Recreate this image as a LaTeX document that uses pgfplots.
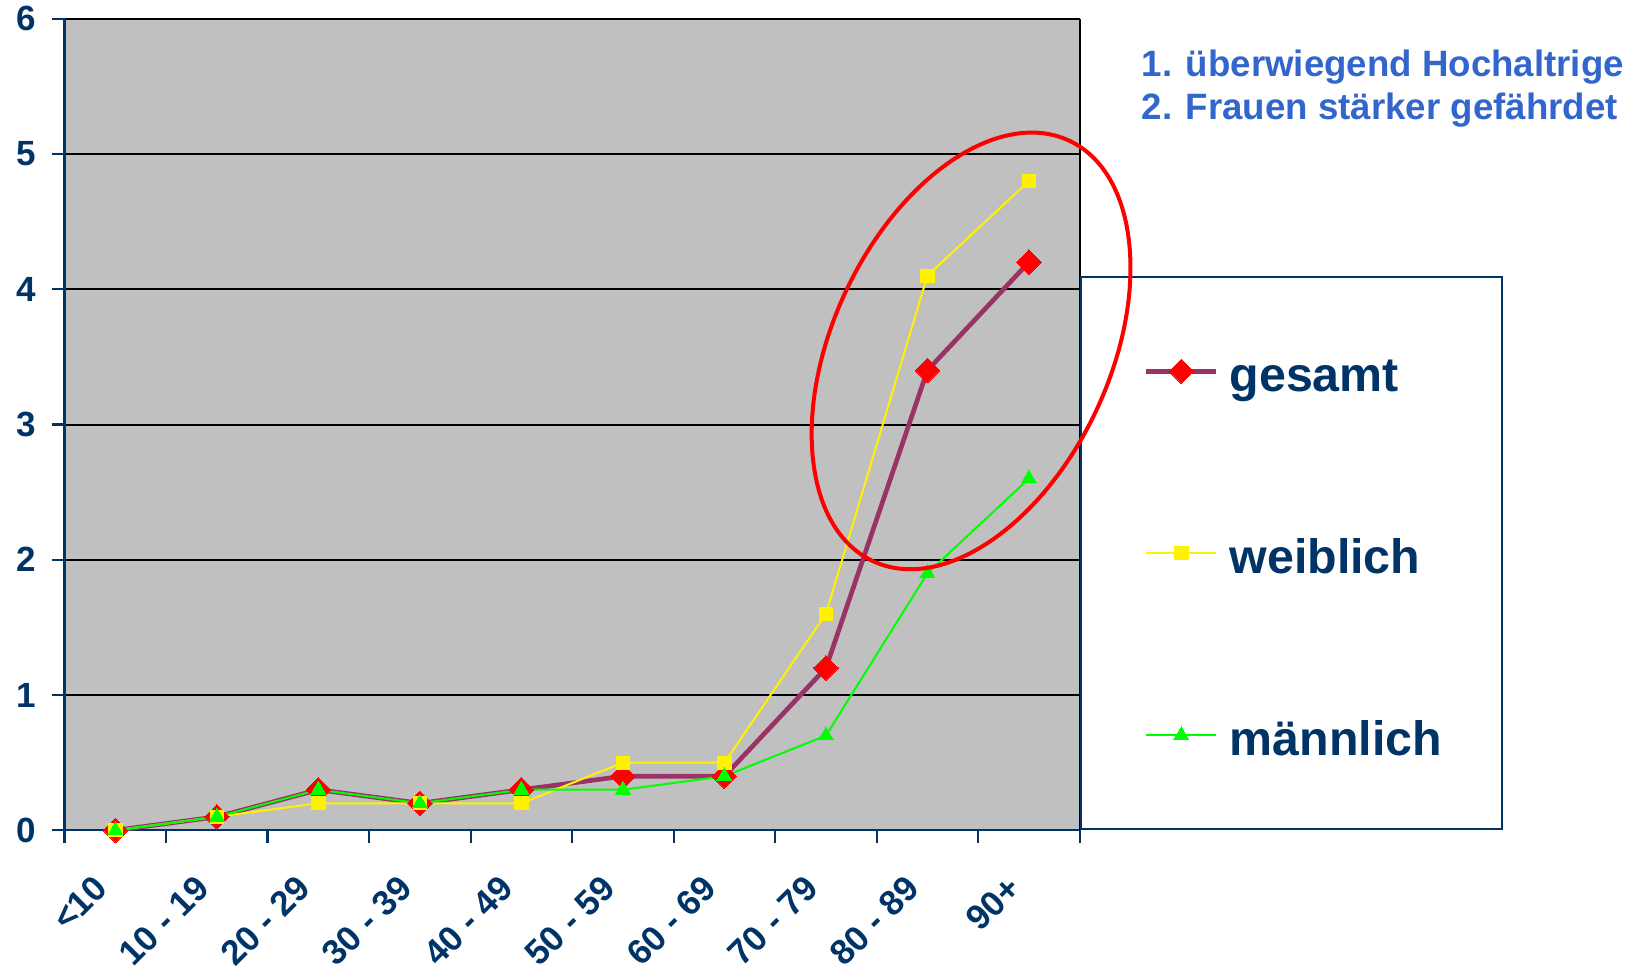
\documentclass[border=0pt]{standalone}
\usepackage{fontspec}
\setmainfont{Liberation Sans}
\usepackage{pgfplots}
\pgfplotsset{compat=1.18}

\definecolor{navy}{HTML}{003366}
\definecolor{annot}{HTML}{3366CC}
\definecolor{plum}{HTML}{993366}
\definecolor{plotgray}{HTML}{C0C0C0}

\begin{document}
\begin{tikzpicture}
\path[use as bounding box] (-19.4pt,-42.75pt) rectangle (470.8pt,249.1pt);
\begin{axis}[
    at={(0,0)}, anchor=south west,
    scale only axis,
    width=304.5pt, height=243.5pt,
    xmin=0, xmax=10, ymin=0, ymax=6,
    xtick={0,...,10},
    x tick label as interval,
    xticklabels={<10, 10 - 19, 20 - 29, 30 - 39, 40 - 49, 50 - 59, 60 - 69, 70 - 79, 80 - 89, 90+},
    ytick={0,...,6},
    axis lines*=left,
    axis line style={navy, line width=0.7pt},
    tick align=outside,
    major tick length=3.9pt,
    tick style={navy, line width=0.7pt},
    ymajorgrids,
    grid style={black, line width=0.6pt},
    axis background/.style={fill=plotgray},
    clip=false,
    /pgf/number format/assume math mode=true,
    tick label style={text=navy},
    xticklabel style={font=\bfseries\fontsize{10.5}{12}\selectfont, inner sep=0pt,
        xshift=-7pt, yshift=-8.8pt, rotate=45, anchor=north east},
    yticklabel style={font=\bfseries\fontsize{10.5}{12}\selectfont, inner sep=0pt, xshift=-4.5pt},
    legend image code/.code={\path (0pt,0pt); \draw[mark repeat=2,mark phase=2,#1] plot coordinates {(1.1pt,0pt) (11.6pt,0pt) (22.1pt,0pt)};},
    legend cell align=left,
    legend style={at={(1,0)}, anchor=south west, draw=navy, line width=0.6pt, fill=white,
        inner xsep=17.9pt, inner ysep=21.2pt, row sep=40.6pt, column sep=3.3pt,
        font=\bfseries\fontsize{14.5}{17}\selectfont, text=navy,
        nodes={inner sep=0pt, text height=13pt, text depth=1pt}},
]

% gesamt
\addplot[plum, line width=1.4pt, mark=square*, mark size=2.6pt,
    mark options={rotate=45, fill=red, draw=red, line width=0pt}] coordinates {
    (0.5,0) (1.5,0.1) (2.5,0.3) (3.5,0.2) (4.5,0.3) (5.5,0.4) (6.5,0.4) (7.5,1.2) (8.5,3.4) (9.5,4.2)
};
% weiblich
\addplot[yellow, line width=0.6pt, mark=square*, mark size=2pt,
    mark options={fill=yellow, draw=yellow, line width=0pt}] coordinates {
    (0.5,0) (1.5,0.1) (2.5,0.2) (3.5,0.2) (4.5,0.2) (5.5,0.5) (6.5,0.5) (7.5,1.6) (8.5,4.1) (9.5,4.8)
};
% maennlich
\addplot[green, line width=0.6pt, mark=triangle*, mark size=2.6pt,
    mark options={fill=green, draw=green, line width=0pt}] coordinates {
    (0.5,0) (1.5,0.1) (2.5,0.3) (3.5,0.2) (4.5,0.3) (5.5,0.3) (6.5,0.4) (7.5,0.7) (8.5,1.9) (9.5,2.6)
};
\legend{gesamt, weiblich, männlich}

\draw[black, line width=0.6pt] (rel axis cs:1,0) -- (rel axis cs:1,1);
\coordinate (ec) at (axis cs:8.93,3.544);
\end{axis}

\draw[red, line width=1.2pt, rotate around={65:(ec)}] (ec) ellipse [x radius=69.6pt, y radius=41.6pt];

\node[anchor=base west, inner sep=0pt, font=\bfseries\fontsize{11}{13}\selectfont, text=annot]
    at (322.9pt,226pt) {1. überwiegend Hochaltrige};
\node[anchor=base west, inner sep=0pt, font=\bfseries\fontsize{11}{13}\selectfont, text=annot]
    at (322.9pt,213.2pt) {2. Frauen stärker gefährdet};
\end{tikzpicture}
\end{document}
